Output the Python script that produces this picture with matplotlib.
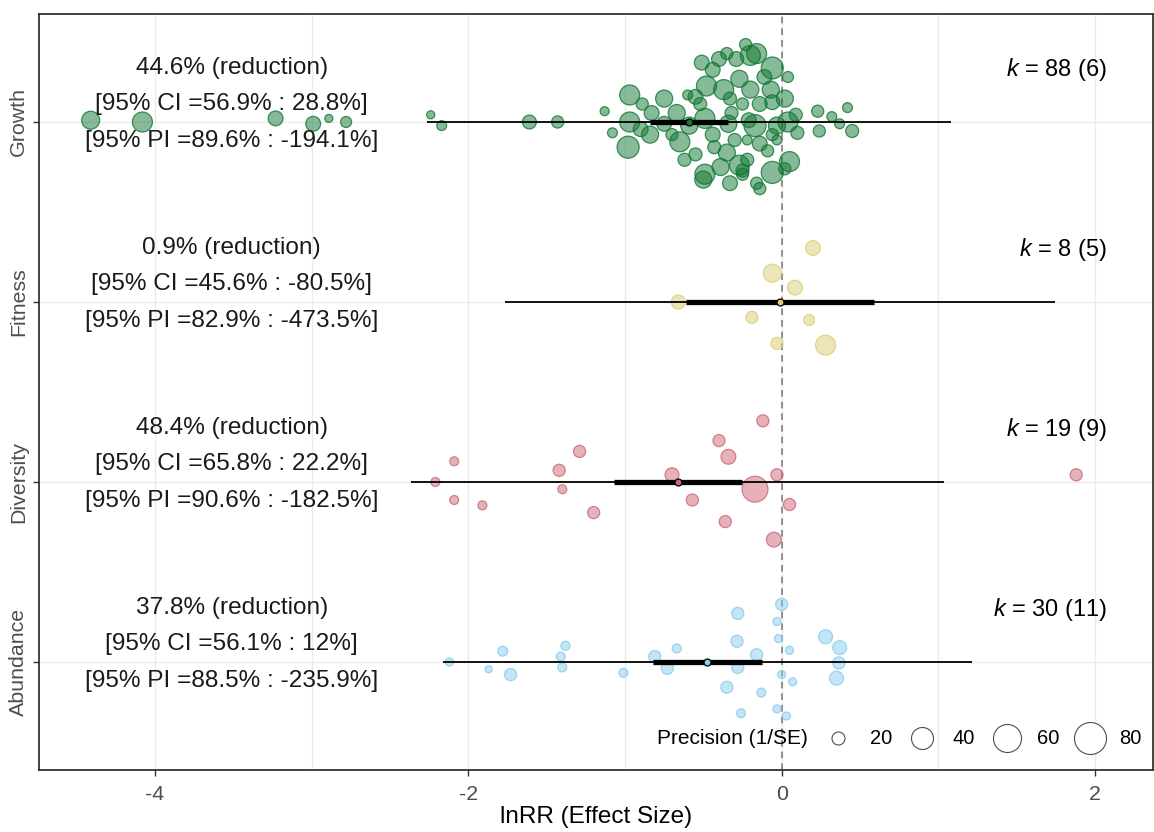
import numpy as np
import matplotlib
matplotlib.use("Agg")
import matplotlib.pyplot as plt
from matplotlib.colors import to_rgba

plt.rcParams['font.family'] = ['Liberation Sans', 'DejaVu Sans']
plt.rcParams['mathtext.fontset'] = 'custom'
plt.rcParams['mathtext.it'] = 'Liberation Sans:italic'
plt.rcParams['mathtext.rm'] = 'Liberation Sans'

# ---------------- data ----------------
categories = ["Abundance", "Diversity", "Fitness", "Growth"]
cat_colors = ["#88CCEE", "#CC6677", "#DDCC77", "#117733"]

estimate = [-0.4748, -0.6616, -0.0090, -0.5906]
ci_low   = [-0.8233, -1.0729, -0.6088, -0.8416]
ci_high  = [-0.1278, -0.2510,  0.5906, -0.3397]
pi_low   = [-2.1628, -2.3645, -1.7661, -2.2634]
pi_high  = [ 1.2116,  1.0385,  1.7466,  1.0788]

k_total   = [30, 19, 8, 88]
k_studies = [11, 9, 5, 6]

pct_text = [
    ["37.8% (reduction)", "[95% CI =56.1% : 12%]",   "[95% PI =88.5% : -235.9%]"],
    ["48.4% (reduction)", "[95% CI =65.8% : 22.2%]", "[95% PI =90.6% : -182.5%]"],
    ["0.9% (reduction)",  "[95% CI =45.6% : -80.5%]", "[95% PI =82.9% : -473.5%]"],
    ["44.6% (reduction)", "[95% CI =56.9% : 28.8%]", "[95% PI =89.6% : -194.1%]"],
]

# effect sizes (lnRR), beeswarm jitter and precision (1/SE) of each study
abund_lnrr = [-2.12, -1.87, -1.78, -1.73, -1.38, -1.41, -1.40, -1.01, -0.81, -0.73,
              -0.67, -0.28, -0.285, -0.28, -0.35, -0.16, -0.13, -0.26, 0.00, -0.03,
              -0.02, 0.05, 0.00, 0.07, -0.03, 0.03, 0.28, 0.37, 0.365, 0.35]
abund_jit  = [0.00, -0.04, 0.06, -0.07, 0.09, 0.03, -0.03, -0.06, 0.03, -0.035,
              0.075, 0.27, 0.115, -0.03, -0.14, 0.04, -0.17, -0.285, 0.32, 0.225,
              0.13, 0.065, -0.07, -0.11, -0.26, -0.30, 0.14, 0.08, -0.005, -0.09]
abund_prec = [9, 7, 13, 18, 11, 11, 11, 11, 18, 18,
              11, 18, 18, 18, 18, 18, 11, 11, 18, 9,
              9, 9, 9, 9, 9, 9, 22, 22, 18, 22]

div_lnrr = [-0.12, -0.40, -0.34, -1.29, -2.09, -1.42, -0.70, -0.03, 1.88, -2.21,
            -0.17, -1.40, -2.09, -0.57, -1.91, 0.05, -1.20, -0.36, -0.05]
div_jit  = [0.34, 0.23, 0.14, 0.17, 0.115, 0.065, 0.04, 0.04, 0.04, 0.00,
            -0.04, -0.04, -0.10, -0.10, -0.13, -0.125, -0.17, -0.22, -0.32]
div_prec = [18, 18, 24, 18, 11, 18, 22, 18, 18, 11,
            53, 11, 11, 18, 11, 18, 18, 18, 24]

fit_lnrr = [0.20, -0.06, 0.085, -0.66, -0.19, 0.175, -0.03, 0.28]
fit_jit  = [0.30, 0.16, 0.08, 0.00, -0.085, -0.10, -0.23, -0.24]
fit_prec = [24, 31, 24, 22, 18, 15.5, 18, 35.5]

grow_lnrr = [-4.41, -4.08, -3.23, -2.99, -2.89, -2.78, -2.24, -2.17, -1.61, -1.43,
             -1.13, -1.08, -0.97, -0.97, -0.98, -0.89, -0.83, -0.84, -0.75, -0.67,
             -0.65, -0.60, -0.55, -0.59, -0.51, -0.48, -0.49, -0.44, -0.44, -0.43,
             -0.35, -0.37, -0.32, -0.49, -0.39, -0.35, -0.33, -0.25, -0.29, -0.20,
             -0.06, -0.20, -0.07, 0.04, 0.02, -0.06, -0.25, -0.17, -0.03, 0.04,
             0.10, -0.06, -0.22, -0.03, -0.09, 0.05, -0.06, -0.22, -0.25, -0.16,
             0.23, 0.32, 0.42, 0.37, 0.24, 0.45, -0.50, -0.16, -0.27, -0.14,
             -0.52, -0.75, -0.90, -0.34, -0.14, -0.30, -0.55, -0.40, -0.27, 0.09,
             -0.11, -0.33, -0.23, -0.62, -0.70, -0.14, 0.02, -0.21]
grow_jit  = [0.01, 0.00, 0.02, -0.01, 0.02, 0.00, 0.04, -0.02, 0.00, 0.00,
             0.06, -0.06, 0.15, 0.00, -0.14, 0.10, 0.05, -0.07, 0.13, 0.05,
             -0.11, 0.15, 0.14, -0.02, 0.33, 0.20, 0.02, 0.29, -0.07, -0.14,
             0.38, 0.18, 0.05, -0.29, -0.25, -0.17, -0.34, -0.27, 0.35, 0.37,
             0.30, 0.18, 0.18, 0.25, 0.13, 0.11, 0.10, -0.02, -0.02, 0.00,
             -0.06, -0.07, -0.10, -0.10, -0.16, -0.22, -0.28, -0.21, -0.29, -0.34,
             0.06, 0.03, 0.08, -0.01, -0.05, -0.05, -0.32, 0.38, 0.24, 0.10,
             0.10, -0.01, -0.04, -0.01, -0.12, -0.10, -0.18, 0.35, -0.24, 0.04,
             0.25, 0.13, 0.43, -0.21, -0.07, -0.37, -0.26, 0.01]
grow_prec = [31, 35.5, 24, 24, 9, 15.5, 9, 13, 22, 18,
             11, 13, 35.5, 35.5, 40, 18, 24, 29, 29, 29,
             35.5, 13, 24, 29, 24, 35.5, 35.5, 24, 24, 20,
             18, 35.5, 20, 35.5, 29, 29, 24, 20, 24, 35.5,
             40, 29, 29, 15.5, 29, 24, 18, 40, 29, 35.5,
             20, 18, 13, 13, 18, 35.5, 40, 20, 18, 18,
             18, 13, 13, 13, 18, 20, 29, 35.5, 29, 24,
             20, 24, 24, 29, 24, 20, 20, 24, 35.5, 20,
             24, 20, 18, 20, 18, 18, 18, 24]

lnrr_all = [abund_lnrr, div_lnrr, fit_lnrr, grow_lnrr]
jit_all = [abund_jit, div_jit, fit_jit, grow_jit]
prec_all = [abund_prec, div_prec, fit_prec, grow_prec]

legend_breaks = [20, 40, 60, 80]

# ---------------- plotting ----------------
def prec_to_area(p):
    d_px = np.interp(np.asarray(p, dtype=float), [0, 20, 40, 60, 80, 100],
                     [4, 13, 22, 28, 32, 36])
    return (d_px * 0.72) ** 2

W, H = 1154, 832
fig = plt.figure(figsize=(W / 100, H / 100), dpi=100)
ax = fig.add_axes([39 / W, (H - 770) / H, 1114 / W, 756 / H])

ax.set_xlim(-4.74, 2.37)
ax.set_ylim(0.4, 4.6)

grid_c = "#EBEBEB"
for gx in range(-4, 3):
    ax.axvline(gx, color=grid_c, lw=1.0, zorder=0)
for i in range(len(categories)):
    ax.axhline(i + 1, color=grid_c, lw=1.0, zorder=0)

ax.axvline(0, color="#7f7f7f", lw=1.2, ls=(0, (4, 3)), zorder=1)

for i, cat in enumerate(categories):
    y0 = i + 1
    col = cat_colors[i]
    xs = np.array(lnrr_all[i])
    ys = y0 + np.array(jit_all[i])
    ax.scatter(xs, ys, s=prec_to_area(prec_all[i]),
               facecolor=to_rgba(col, 0.5), edgecolor=to_rgba(col, 0.8),
               linewidth=0.9, zorder=2)
    ax.plot([pi_low[i], pi_high[i]], [y0, y0], color="black", lw=1.3,
            solid_capstyle="butt", zorder=3)
    ax.plot([ci_low[i], ci_high[i]], [y0, y0], color="black", lw=3.8,
            solid_capstyle="butt", zorder=4)
    ax.scatter([estimate[i]], [y0], s=(7 * 0.72) ** 2, facecolor=col,
               edgecolor="black", linewidth=0.9, zorder=5)
    # annotation text
    offs = [0.30, 0.10, -0.105]
    for line, off in zip(pct_text[i], offs):
        ax.text(-3.51, y0 + off, line, ha="center", va="center",
                fontsize=17.6, color="#1a1a1a", zorder=6)
    ax.text(2.076, y0 + 0.29, r"$k$" + f" = {k_total[i]} ({k_studies[i]})",
            ha="right", va="center", fontsize=17, color="black", zorder=6)

ax.set_yticks(range(1, len(categories) + 1))
ax.set_yticklabels(categories, rotation=90, va="center", fontsize=15.4,
                   color="#4D4D4D")
ax.set_xticks([-4, -2, 0, 2])
ax.set_xticklabels(["-4", "-2", "0", "2"], fontsize=15.4, color="#4D4D4D")
ax.tick_params(axis="both", length=4, width=1, color="#333333")
ax.tick_params(axis="x", pad=7)
ax.tick_params(axis="y", pad=4)
ax.set_xlabel("lnRR (Effect Size)", fontsize=17.5, color="black", labelpad=1)
for sp in ax.spines.values():
    sp.set_color("#333333")
    sp.set_linewidth(1.3)

# size legend (bottom right, inside the panel)
ax.text(0.555, 0.0423, "Precision (1/SE)", transform=ax.transAxes,
        ha="left", va="center", fontsize=15, color="black", zorder=7)
leg_cx = [0.717, 0.793, 0.869, 0.943]
leg_tx = [0.746, 0.820, 0.896, 0.970]
for b, cx, tx in zip(legend_breaks, leg_cx, leg_tx):
    ax.scatter([cx], [0.0423], s=prec_to_area(b), transform=ax.transAxes,
               facecolor="white", edgecolor="#4D4D4D", linewidth=0.8,
               zorder=7, clip_on=False)
    ax.text(tx, 0.0423, str(b), transform=ax.transAxes, ha="left",
            va="center", fontsize=14.5, color="black", zorder=7)

fig.savefig("out.png", dpi=100)
